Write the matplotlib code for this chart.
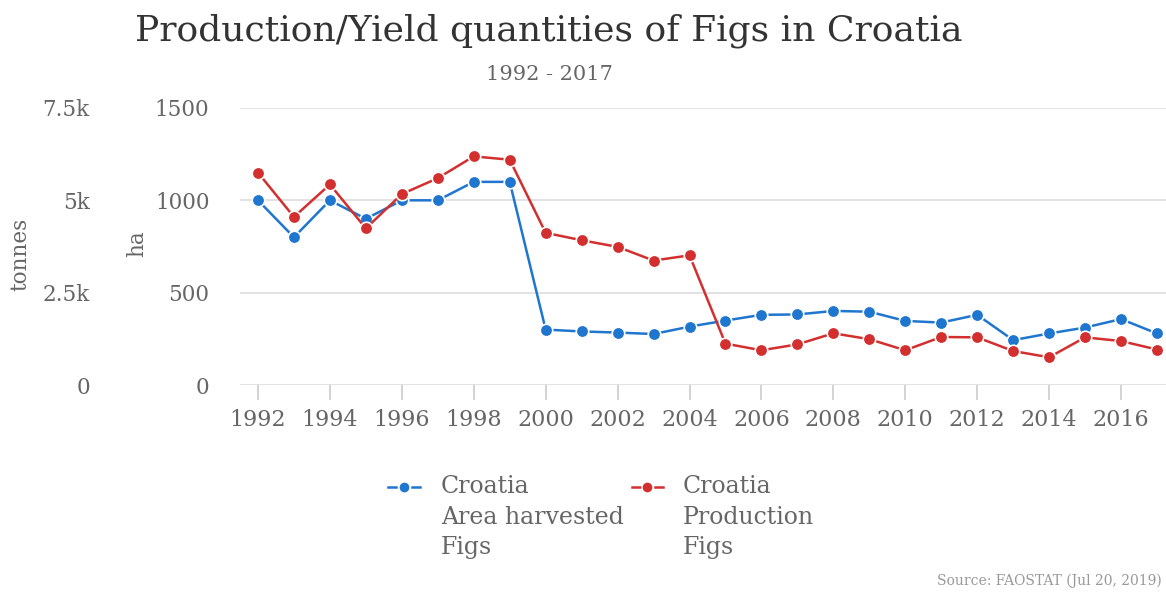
import numpy as np
import matplotlib.pyplot as plt
from matplotlib.lines import Line2D

# Données
years = list(range(1992, 2018))
area_ha = [1000, 800, 1000, 900, 1000, 1000, 1100, 1100, 300, 290, 284, 276,
           316, 349, 380, 382, 401, 397, 347, 338, 380, 243, 279, 311, 357, 279]
production_t = [5750, 4550, 5430, 4240, 5170, 5600, 6190, 6100, 4120, 3920, 3740, 3370,
                3510, 1120, 940, 1100, 1400, 1240, 940, 1300, 1290, 920, 750, 1290, 1190, 960]

ha_ticks = [0, 500, 1000, 1500]
t_ticks = [0, 2500, 5000, 7500]
t_labels = ['0', '2.5k', '5k', '7.5k']
x_ticks = list(range(1992, 2017, 2))

blue = '#1f76cf'
red = '#d32f2f'
grey_txt = '#666666'
grid_col = '#dddddd'

plt.rcParams['font.family'] = ['DejaVu Serif']

fig = plt.figure(figsize=(11.66, 5.92), dpi=100)
W, H = 1166, 592
ax = fig.add_axes([240 / W, 1 - 385 / H, 926 / W, 277 / H])
ax2 = ax.twinx()

ax.set_xlim(1991.5, 2017.25)
ax.set_ylim(0, 1500)
ax2.set_ylim(0, 7500)

# Grille
ax.set_yticks(ha_ticks)
ax.yaxis.grid(True, color=grid_col, linewidth=1.2)
ax.set_axisbelow(True)
for a in (ax, ax2):
    for s in a.spines.values():
        s.set_visible(False)

ax.tick_params(axis='y', length=0, pad=22, labelsize=15.5, labelcolor=grey_txt)
ax.set_xticks(x_ticks)
ax.tick_params(axis='x', length=11, width=1.2, color='#cccccc', pad=6,
               labelsize=16, labelcolor=grey_txt)

ax2.yaxis.set_ticks_position('left')
ax2.yaxis.set_label_position('left')
ax2.set_yticks(t_ticks)
ax2.set_yticklabels(t_labels)
ax2.tick_params(axis='y', length=0, pad=108, labelsize=15.5, labelcolor=grey_txt)

ax.set_ylabel('ha', fontsize=15.5, color=grey_txt)
ax.yaxis.set_label_coords(-0.099, 0.51)
ax2.set_ylabel('tonnes', fontsize=15.5, color=grey_txt)
ax2.yaxis.set_label_coords(-0.225, 0.47)

# Séries
ax.plot(years, area_ha, color=blue, linewidth=1.8, marker='o', markersize=9,
        markeredgecolor='white', markeredgewidth=1.2, zorder=3, clip_on=False)
ax2.plot(years, production_t, color=red, linewidth=1.8, marker='o', markersize=9,
         markeredgecolor='white', markeredgewidth=1.2, zorder=4, clip_on=False)

# Titres
fig.text(549 / W, 1 - 31 / H, 'Production/Yield quantities of Figs in Croatia',
         ha='center', va='center', fontsize=26, color='#333333')
fig.text(549 / W, 1 - 74 / H, '1992 - 2017', ha='center', va='center',
         fontsize=15, color=grey_txt)

# Légende
def legend_item(x0, xdot, x1, xtext, color, label):
    y = 1 - 487 / H
    fig.add_artist(Line2D([x0 / W, (x0 + 8) / W], [y, y], color=color,
                          linewidth=1.8, transform=fig.transFigure))
    fig.add_artist(Line2D([(x1 - 8) / W, x1 / W], [y, y], color=color,
                          linewidth=1.8, transform=fig.transFigure))
    fig.add_artist(Line2D([xdot / W], [y], color=color, marker='o', markersize=8,
                          markeredgecolor='white', transform=fig.transFigure))
    fig.text(xtext / W, 1 - 475 / H, label, ha='left', va='top', fontsize=17,
             color=grey_txt, linespacing=1.42)

legend_item(388, 404, 420, 441, blue, 'Croatia\nArea harvested\nFigs')
legend_item(632, 647, 663, 683, red, 'Croatia\nProduction\nFigs')

fig.text(1162 / W, 1 - 581 / H, 'Source: FAOSTAT (Jul 20, 2019)', ha='right',
         va='center', fontsize=10, color='#999999')

fig.savefig('out.png', dpi=100)
